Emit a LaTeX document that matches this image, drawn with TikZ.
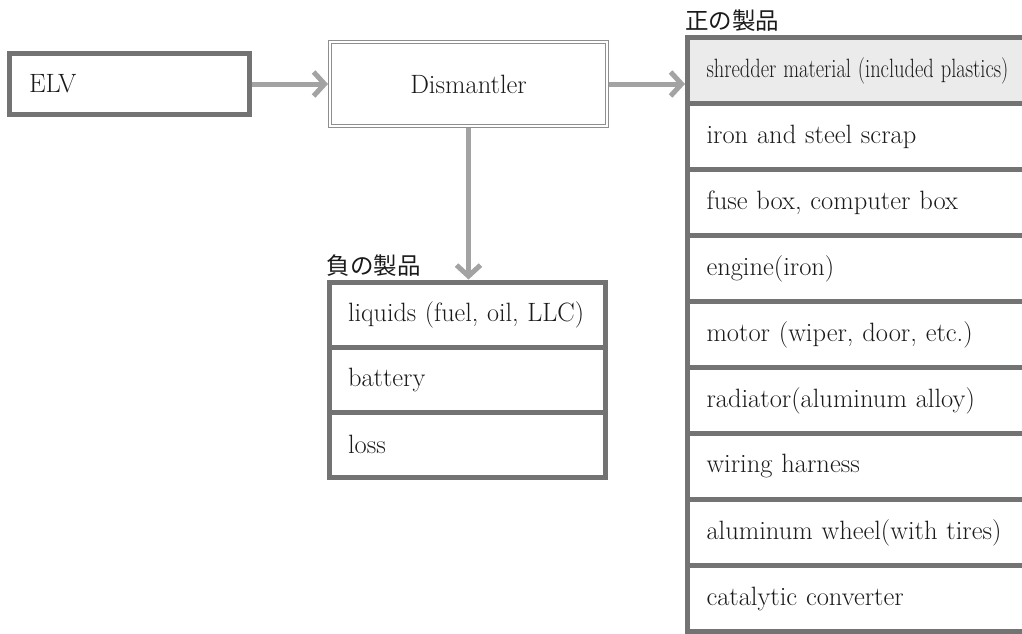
\documentclass[tikz,border=0pt]{standalone}
\usepackage{fontspec}
\usepackage{graphicx}
\usetikzlibrary{arrows.meta}
\newfontfamily\jp{Noto Sans CJK JP}
\definecolor{boxgray}{HTML}{737373}
\definecolor{arrgray}{HTML}{A3A3A3}
\definecolor{dblgray}{HTML}{8E8E8E}
\definecolor{shfill}{HTML}{EBEBEB}
\definecolor{txt}{HTML}{1A1A1A}
\begin{document}
\begin{tikzpicture}[x=1pt,y=-1pt,
  every node/.style={text=txt},
  txtfont/.style={font=\fontsize{26.5}{31}\selectfont},
  cell/.style={draw=boxgray, line width=5pt, txtfont, inner xsep=19pt, inner ysep=0pt, align=left},
  rcell/.style={cell, minimum width=352.5pt, minimum height=66pt, text width=314.5pt},
  lcell/.style={cell, minimum width=276.5pt, minimum height=65pt, text width=238.5pt},
  title/.style={font=\jp\fontsize{23.5}{27}\selectfont, inner sep=0pt, anchor=south west},
  arr/.style={draw=arrgray, line width=5pt, -{Straight Barb[length=11pt,width=24pt]}}]
\useasboundingbox (0,0) rectangle (1022,634);
\clip (0,0) rectangle (1022,634);

% ELV
\node[cell, minimum width=240pt, minimum height=61pt, text width=201pt] (elv) at (129.5,84) {ELV};
% Dismantler
\node[draw=dblgray, line width=1.2pt, double=white, double distance=2pt, outer sep=2.2pt,
      minimum width=276.6pt, minimum height=83.6pt, txtfont] (dis) at (468.5,84) {Dismantler};

% right column
\node[rcell, fill=shfill] (r1) at (863.75,70.5) {\resizebox{302pt}{\height}{shredder material (included plastics)}};
\node[rcell] (r2) at (863.75,136.5) {iron and steel scrap};
\node[rcell] (r3) at (863.75,202.5) {fuse box, computer box};
\node[rcell] (r4) at (863.75,268.5) {engine(iron)};
\node[rcell] (r5) at (863.75,334.5) {motor (wiper, door, etc.)};
\node[rcell] (r6) at (863.75,400.5) {radiator(aluminum alloy)};
\node[rcell] (r7) at (863.75,466.5) {wiring harness};
\node[rcell] (r8) at (863.75,532.5) {aluminum wheel(with tires)};
\node[rcell] (r9) at (863.75,598.5) {catalytic converter};
\node[title] (tpos) at ([yshift=3pt]r1.north west) {正の製品};

% left list
\node[lcell] (l1) at (467.25,314.5) {\resizebox{236pt}{\height}{liquids (fuel, oil, LLC)}};
\node[lcell] (l2) at (467.25,379.5) {battery};
\node[lcell] (l3) at (467.25,444.5) {loss};
\node[title] (tneg) at ([yshift=3pt]l1.north west) {負の製品};

% arrows
\draw[arr] (elv.east) -- (dis.west);
\draw[arr] (dis.east) -- (dis.east -| r1.west);
\draw[arr] (dis.south) -- (dis.south |- l1.north);
\end{tikzpicture}
\end{document}
